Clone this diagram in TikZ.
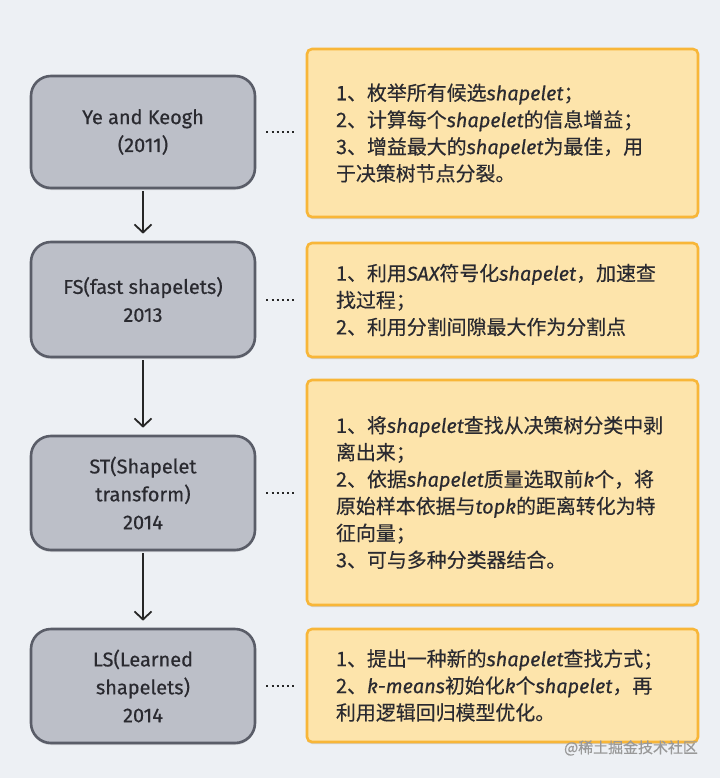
\documentclass[tikz,border=0pt]{standalone}
\usepackage{fontspec}
\setmainfont[FakeBold=0.35]{Noto Sans CJK SC}
\newfontfamily\latin[FakeBold=0.5]{Fira Sans}
\newcommand\en[1]{{\latin\itshape #1}}
\usetikzlibrary{arrows.meta,shadows}
\definecolor{bg}{HTML}{EDF0F4}
\definecolor{lfill}{HTML}{BCBFC8}
\definecolor{lborder}{HTML}{5A5D68}
\definecolor{rfill}{HTML}{FDE4AB}
\definecolor{rborder}{HTML}{F8B638}
\definecolor{txt}{HTML}{2A2A30}
\tikzset{
  leftbox/.style={draw=lborder, fill=lfill, line width=2.6bp, rounded corners=20bp,
    minimum width=224bp, align=center, text=txt, inner sep=0pt,
    font=\latin\fontsize{20}{28}\selectfont,
    drop shadow={shadow xshift=0bp, shadow yshift=-2bp, opacity=0.12, fill=black}},
  rightbox/.style={draw=rborder, fill=rfill, line width=2.6bp, rounded corners=5bp,
    minimum width=391bp, text width=333bp, inner xsep=29bp, inner ysep=0pt,
    align=left, text=txt, font=\fontsize{20}{27}\selectfont,
    drop shadow={shadow xshift=0bp, shadow yshift=-2bp, opacity=0.12, fill=black}},
  arr/.style={draw=black!85, line width=1.8bp, -{Straight Barb[length=8bp,width=17bp,line width=1.8bp]}, shorten >=7bp, shorten <=2bp},
  dotline/.style={draw=black!85, line width=2bp, dash pattern=on 2bp off 3.2bp, shorten <=10bp, shorten >=10bp}
}
\begin{document}
\begin{tikzpicture}[x=1bp,y=-1bp]
\fill[bg] (0,0) rectangle (720,778);
\useasboundingbox (0,0) rectangle (720,778);

\node[leftbox, minimum height=112bp] (l1) at (143,132) {Ye and Keogh\\(2011)};
\node[leftbox, minimum height=115bp] (l2) at (143,299.5) {FS(fast shapelets)\\2013};
\node[leftbox, minimum height=114bp] (l3) at (143,493) {ST(Shapelet\\transform)\\2014};
\node[leftbox, minimum height=114bp] (l4) at (143,686) {LS(Learned\\shapelets)\\2014};

\node[rightbox, minimum height=168bp] (r1) at (502.5,133) {1、枚举所有候选\en{shapelet}；\\2、计算每个\en{shapelet}的信息增益；\\3、增益最大的\en{shapelet}为最佳，用\\于决策树节点分裂。};
\node[rightbox, minimum height=114bp] (r2) at (502.5,300) {1、利用\en{SAX}符号化\en{shapelet}，加速查\\找过程；\\2、利用分割间隙最大作为分割点};
\node[rightbox, minimum height=225bp] (r3) at (502.5,492.5) {1、将\en{shapelet}查找从决策树分类中剥\\离出来；\\2、依据\en{shapelet}质量选取前\en{k}个，将\\原始样本依据与\en{topk}的距离转化为特\\征向量；\\3、可与多种分类器结合。};
\node[rightbox, minimum height=113bp] (r4) at (502.5,685.5) {1、提出一种新的\en{shapelet}查找方式；\\2、\en{k-means}初始化\en{k}个\en{shapelet}，再\\利用逻辑回归模型优化。};

\draw[arr] (l1.south) -- (l2.north);
\draw[arr] (l2.south) -- (l3.north);
\draw[arr] (l3.south) -- (l4.north);

\draw[dotline] (l1.east) -- (l1.east -| r1.west);
\draw[dotline] (l2.east) -- (l2.east -| r2.west);
\draw[dotline] (l3.east) -- (l3.east -| r3.west);
\draw[dotline] (l4.east) -- (l4.east -| r4.west);

\node[anchor=east, text=black!40, font=\fontsize{15}{15}\selectfont, inner sep=0pt] (wm) at (698,748) {@稀土掘金技术社区};
\end{tikzpicture}
\end{document}
